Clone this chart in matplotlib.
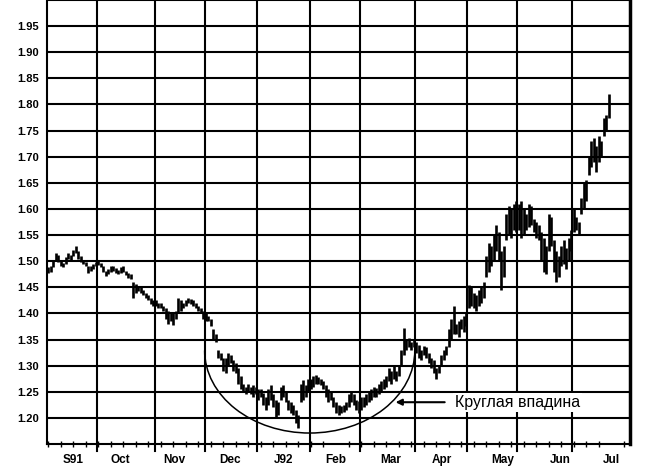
import numpy as np
import matplotlib
matplotlib.use('Agg')
import matplotlib.pyplot as plt
from matplotlib.patches import Arc
from matplotlib.ticker import MultipleLocator

plt.rcParams['font.family'] = ['Liberation Sans', 'DejaVu Sans']

# daily price bars, one entry per trading day, Sep 1991 .. Jul 1992
lows = [
    # Sep
    1.478, 1.48, 1.488, 1.50, 1.498, 1.49, 1.488, 1.495, 1.505, 1.50,
    1.51, 1.515, 1.505, 1.498, 1.495, 1.49, 1.478, 1.482, 1.485, 1.49,
    # Oct
    1.492, 1.488, 1.48, 1.472, 1.475, 1.48, 1.482, 1.478, 1.476, 1.478,
    1.48, 1.474, 1.468, 1.466, 1.43, 1.44, 1.442, 1.44, 1.435, 1.43,
    1.425, 1.418, 1.415,
    # Nov
    1.415, 1.41, 1.41, 1.405, 1.39, 1.38, 1.385, 1.378, 1.39, 1.40,
    1.405, 1.41, 1.415, 1.42, 1.418, 1.415, 1.41, 1.405, 1.40, 1.39,
    # Dec
    1.385, 1.385, 1.375, 1.35, 1.345, 1.315, 1.31, 1.29, 1.285, 1.30,
    1.305, 1.29, 1.285, 1.265, 1.255, 1.25, 1.245, 1.25, 1.245, 1.24, 1.245,
    # Jan
    1.235, 1.24, 1.225, 1.215, 1.225, 1.235, 1.22, 1.20, 1.205, 1.235,
    1.24, 1.23, 1.215, 1.21, 1.205, 1.19, 1.18, 1.23, 1.235, 1.24, 1.25,
    # Feb
    1.255, 1.26, 1.265, 1.265, 1.262, 1.255, 1.24, 1.23, 1.235, 1.22,
    1.21, 1.205, 1.21, 1.212, 1.215, 1.22, 1.23, 1.225, 1.215, 1.21,
    # Mar
    1.215, 1.22, 1.225, 1.23, 1.235, 1.24, 1.24, 1.245, 1.25, 1.255,
    1.26, 1.27, 1.265, 1.275, 1.27, 1.28, 1.30, 1.32, 1.33, 1.335, 1.33, 1.335,
    # Apr
    1.325, 1.315, 1.31, 1.32, 1.315, 1.305, 1.295, 1.285, 1.275, 1.285,
    1.30, 1.31, 1.32, 1.335, 1.35, 1.36, 1.36, 1.355, 1.37, 1.365, 1.375,
    # May
    1.41, 1.415, 1.41, 1.405, 1.415, 1.42, 1.43, 1.47, 1.48, 1.49,
    1.50, 1.52, 1.50, 1.445, 1.47, 1.54, 1.55, 1.545, 1.56, 1.555,
    # Jun
    1.56, 1.545, 1.55, 1.56, 1.565, 1.57, 1.555, 1.545, 1.54, 1.50,
    1.48, 1.475, 1.52, 1.53, 1.48, 1.46, 1.47, 1.49, 1.495, 1.485, 1.50, 1.52,
    # Jul
    1.555, 1.56, 1.55, 1.59, 1.60, 1.615, 1.665, 1.68, 1.69, 1.67,
    1.69, 1.70, 1.74, 1.75, 1.775,
]
highs = [
    # Sep
    1.488, 1.49, 1.50, 1.515, 1.512, 1.50, 1.497, 1.508, 1.515, 1.512,
    1.522, 1.53, 1.52, 1.51, 1.502, 1.498, 1.49, 1.49, 1.495, 1.498,
    # Oct
    1.50, 1.497, 1.49, 1.482, 1.485, 1.49, 1.49, 1.486, 1.484, 1.488,
    1.49, 1.482, 1.478, 1.476, 1.46, 1.456, 1.452, 1.45, 1.445, 1.44,
    1.435, 1.43, 1.425,
    # Nov
    1.425, 1.42, 1.42, 1.415, 1.41, 1.405, 1.40, 1.402, 1.405, 1.43,
    1.425, 1.42, 1.425, 1.43, 1.428, 1.425, 1.42, 1.415, 1.41, 1.405,
    # Dec
    1.40, 1.395, 1.39, 1.37, 1.36, 1.33, 1.325, 1.315, 1.315, 1.325,
    1.32, 1.31, 1.305, 1.295, 1.28, 1.265, 1.26, 1.265, 1.26, 1.262, 1.26,
    # Jan
    1.255, 1.255, 1.248, 1.24, 1.255, 1.262, 1.245, 1.235, 1.23, 1.26,
    1.262, 1.25, 1.235, 1.23, 1.225, 1.215, 1.205, 1.265, 1.272, 1.262, 1.275,
    # Feb
    1.275, 1.28, 1.282, 1.278, 1.275, 1.27, 1.262, 1.255, 1.25, 1.24,
    1.23, 1.225, 1.222, 1.225, 1.23, 1.245, 1.25, 1.245, 1.235, 1.232,
    # Mar
    1.24, 1.24, 1.245, 1.25, 1.255, 1.26, 1.258, 1.265, 1.27, 1.275,
    1.28, 1.295, 1.29, 1.30, 1.29, 1.30, 1.33, 1.373, 1.35, 1.352, 1.345, 1.35,
    # Apr
    1.345, 1.34, 1.33, 1.338, 1.335, 1.325, 1.315, 1.31, 1.295, 1.30,
    1.32, 1.33, 1.338, 1.37, 1.39, 1.415, 1.38, 1.385, 1.39, 1.395, 1.40,
    # May
    1.455, 1.45, 1.44, 1.435, 1.445, 1.45, 1.46, 1.51, 1.535, 1.53,
    1.55, 1.57, 1.555, 1.52, 1.53, 1.59, 1.605, 1.60, 1.61, 1.615,
    # Jun
    1.61, 1.615, 1.60, 1.59, 1.61, 1.605, 1.58, 1.575, 1.57, 1.555,
    1.545, 1.53, 1.59, 1.585, 1.54, 1.52, 1.51, 1.53, 1.54, 1.525, 1.545, 1.56,
    # Jul
    1.60, 1.585, 1.575, 1.62, 1.65, 1.655, 1.70, 1.73, 1.735, 1.72,
    1.74, 1.73, 1.775, 1.78, 1.82,
]

month_labels = ['S91', 'Oct', 'Nov', 'Dec', 'J92', 'Feb', 'Mar', 'Apr', 'May', 'Jun', 'Jul']
month_label_pos = [9.9, 28.7, 50.2, 72.6, 94.2, 115.0, 137.0, 157.4, 181.7, 204.5, 225.0]
month_bounds = [19.5, 42.5, 62.5, 83.5, 104.5, 124.5, 146.5, 167.5, 187.5, 209.5]
price_ticks = [1.20, 1.25, 1.30, 1.35, 1.40, 1.45, 1.50, 1.55, 1.60,
               1.65, 1.70, 1.75, 1.80, 1.85, 1.90, 1.95]

days = np.arange(len(lows))

fig = plt.figure(figsize=(6.45, 4.70), dpi=100)
ax = fig.add_axes([47 / 645, 26 / 470, 583 / 645, 444 / 470])
ax.set_xlim(-0.5, 232.5)
ax.set_ylim(1.15, 2.0)

# grid
for p in price_ticks + [2.0]:
    ax.axhline(p, color='black', lw=1.5, zorder=1)
for b in month_bounds:
    ax.axvline(b, ymin=-0.015, ymax=1, color='black', lw=1.5, zorder=1, clip_on=False)

# price bars
ax.vlines(days, lows, highs, color='black', lw=1.9, zorder=3)

# rounding bottom
ax.add_patch(Arc((104.5, 1.329), 84, 0.316, theta1=180, theta2=360,
                 color='black', lw=1.1, zorder=4))

ax.annotate('Круглая впадина', xy=(138.8, 1.23), xytext=(162.6, 1.23),
            fontsize=11.5, va='center', ha='left',
            bbox=dict(facecolor='white', edgecolor='none', pad=1.5),
            arrowprops=dict(arrowstyle='-|>', color='black', lw=1.5,
                            mutation_scale=9, shrinkA=6, shrinkB=0),
            zorder=5)

ax.set_yticks(price_ticks)
ax.set_yticklabels(['%.2f' % p for p in price_ticks], fontsize=8, fontweight='bold')
ax.tick_params(axis='y', length=0, pad=6)

ax.set_xticks(month_label_pos)
ax.set_xticklabels(month_labels, fontsize=8.5, fontweight='bold')
ax.tick_params(axis='x', which='major', length=0, pad=7)
ax.xaxis.set_minor_locator(MultipleLocator(5))
ax.tick_params(axis='x', which='minor', direction='inout', length=5, width=1)

ax.spines['top'].set_visible(False)
ax.spines['left'].set_linewidth(1.5)
ax.spines['bottom'].set_linewidth(1.5)
ax.spines['right'].set_linewidth(2.5)

fig.savefig('out.png', dpi=100)
